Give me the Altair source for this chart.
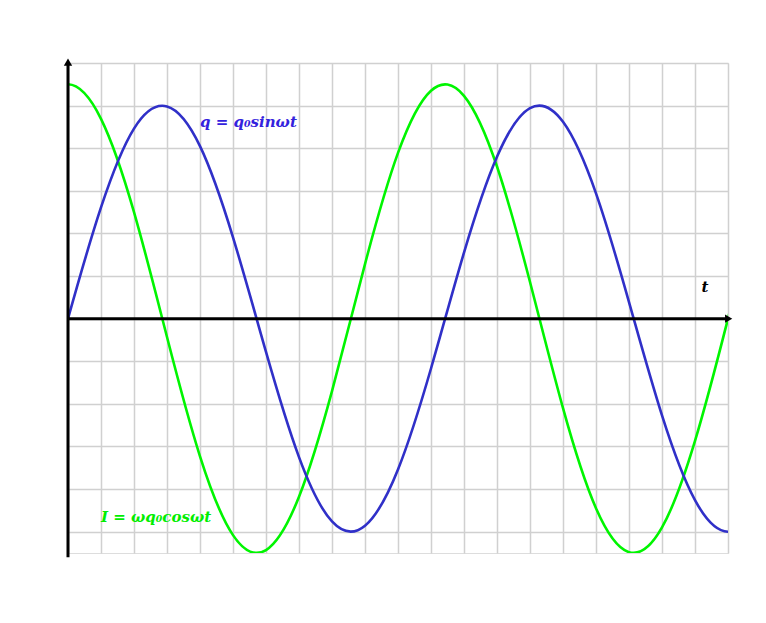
import altair as alt
import pandas as pd

# grid-unit positions along t (20 grid columns span 1.75 periods); one extra
# reading either side of the frame keeps the curve ends natural (clipped away)
t_vals = [-2, -1] + list(range(21)) + [21, 22]
q_vals = [-4.46, -2.61,
          0.0, 2.61, 4.46, 4.98, 4.05, 1.91, -0.78, -3.25, -4.76, -4.86, -3.54,
          -1.17, 1.55, 3.80, 4.94, 4.62, 2.94, 0.39, -2.27, -4.26, -5.00,
          -4.26, -2.27]
i_vals = [2.50, 4.69,
          5.5, 4.69, 2.50, -0.43, -3.23, -5.08, -5.43, -4.18, -1.70, 1.28, 3.89,
          5.35, 5.23, 3.57, 0.86, -2.10, -4.45, -5.48, -4.90, -2.87, 0.0,
          2.87, 4.90]

labels = ["q = q₀sinωt", "I = ωq₀cosωt", "t"]
label_x = [4.0, 1.0, 19.2]
label_y = [4.62, -4.65, 0.75]

BLUE = "#3030c8"
GREEN = "#00f500"
TEXT_COLORS = ["#3322dd", "#00ee00", "black"]

df = pd.DataFrame({"t": t_vals, "q": q_vals, "i": i_vals})

xs = alt.Scale(domain=[0, 20], nice=False, zero=False)
ys = alt.Scale(domain=[-5.5, 6], nice=False, zero=False)

xax = alt.Axis(values=list(range(21)), grid=True, labels=False, ticks=False, domain=False,
               title=None, gridColor="#d0d0d0", gridWidth=1.5, labelOverlap=False)
yax = alt.Axis(values=list(range(-5, 7)), grid=True, labels=False, ticks=False, domain=False,
               title=None, gridColor="#d0d0d0", gridWidth=1.5, labelOverlap=False)


def X(field):
    return alt.X(field, scale=xs, axis=xax)


def Y(field):
    return alt.Y(field, scale=ys, axis=yax)


base = alt.Chart(df)

green_line = base.mark_line(color=GREEN, strokeWidth=2.6, interpolate="natural", clip=True).encode(
    x=X("t:Q"), y=Y("i:Q"))
blue_line = base.mark_line(color=BLUE, strokeWidth=2.6, interpolate="natural", clip=True).encode(
    x=X("t:Q"), y=Y("q:Q"))

axes_df = pd.DataFrame({"x": [0.0, 0.0], "y": [-5.6, 0.0], "x2": [0.0, 20.0], "y2": [6.0, 0.0]})
axes = alt.Chart(axes_df).mark_rule(color="black", strokeWidth=3).encode(
    x=X("x:Q"), y=Y("y:Q"), x2="x2:Q", y2="y2:Q")

arrow_up = alt.Chart(pd.DataFrame({"x": [0.0], "y": [6.02]})).mark_point(
    shape="triangle-up", filled=True, color="black", size=70, opacity=1).encode(
    x=X("x:Q"), y=Y("y:Q"))
arrow_right = alt.Chart(pd.DataFrame({"x": [20.02], "y": [0.0]})).mark_point(
    shape="triangle-right", filled=True, color="black", size=70, opacity=1).encode(
    x=X("x:Q"), y=Y("y:Q"))

lab_df = pd.DataFrame({"label": labels, "x": label_x, "y": label_y, "c": TEXT_COLORS})
texts = alt.Chart(lab_df).mark_text(
    align="left", baseline="middle", font="DejaVu Serif", fontStyle="italic",
    fontWeight="bold", fontSize=15).encode(
    x=X("x:Q"), y=Y("y:Q"), text="label:N",
    color=alt.Color("c:N", scale=None))

chart = alt.layer(green_line, blue_line, axes, arrow_up, arrow_right, texts).properties(
    width=660, height=490,
    autosize=alt.AutoSizeParams(type="none"),
    padding={"left": 68, "top": 63, "right": 38, "bottom": 70},
).configure_view(stroke=None).configure(background="white")

chart.save("out.html", embed_options={"renderer": "svg", "actions": False})
